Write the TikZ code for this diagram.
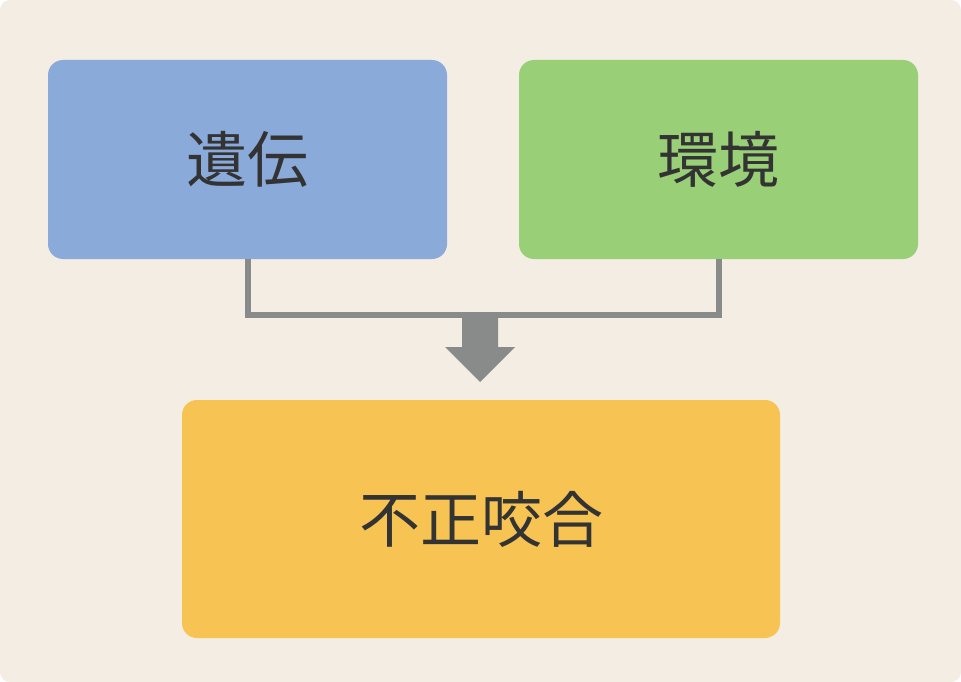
\documentclass[tikz,border=0pt]{standalone}
\usepackage{fontspec}
\newfontfamily\cjk{Noto Sans CJK JP}
\definecolor{bgc}{HTML}{F4EDE3}
\definecolor{bluec}{HTML}{8AAAD9}
\definecolor{greenc}{HTML}{98CF77}
\definecolor{yellowc}{HTML}{F7C352}
\definecolor{grayc}{HTML}{898A8A}
\definecolor{textc}{HTML}{333333}
\tikzset{
  box/.style={rounded corners=15pt, inner sep=0pt, font=\cjk\fontsize{61}{66}\selectfont, text=textc},
  conn/.style={draw=grayc, line width=6pt},
}
\begin{document}
\begin{tikzpicture}[x=1pt,y=-1pt]
\useasboundingbox (0,0) rectangle (961,682);
\fill[bgc, rounded corners=10pt] (0,0) rectangle (961,682);
\node[box, fill=bluec, minimum width=399pt, minimum height=199pt] (gene) at (247.5,159.5) {遺伝};
\node[box, fill=greenc, minimum width=399pt, minimum height=199pt] (env) at (718.5,159.5) {環境};
\node[box, fill=yellowc, minimum width=598pt, minimum height=238pt] (mal) at (481,519) {\raisebox{-2pt}{不正咬合}};
\coordinate (jl) at (248,315);
\coordinate (jr) at (719,315);
\draw[conn] (gene.south -| jl) -- (jl) -- (jr) -- (env.south -| jr);
\fill[grayc] (462,316) -- (498,316) -- (498,347) -- (515,347) -- (480,382) -- (445,347) -- (462,347) -- cycle;
\end{tikzpicture}
\end{document}
